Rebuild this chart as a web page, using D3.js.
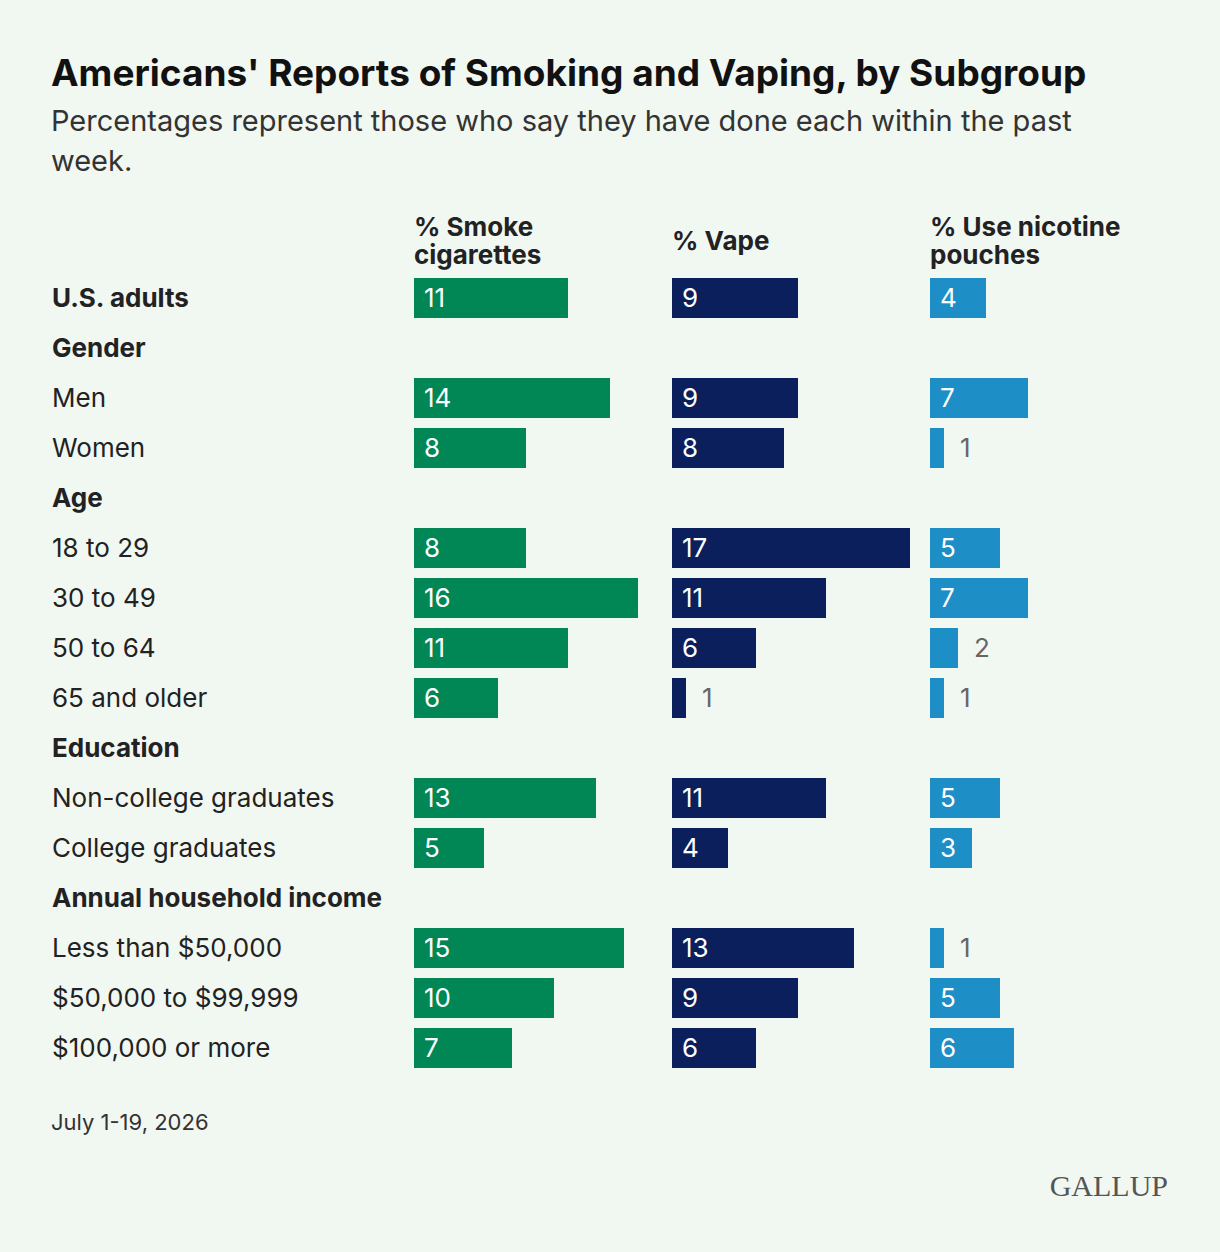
<!DOCTYPE html>
<html><head><meta charset="utf-8">
<script src="https://cdn.jsdelivr.net/npm/d3@7"></script>
<style>body{margin:0;background:#f1f7f1;font-family:Inter,"Noto Sans",sans-serif}</style>
</head><body><div class="canvas"></div>
<script>
const rows = ['U.S. adults','Gender','Men','Women','Age','18 to 29','30 to 49','50 to 64','65 and older','Education','Non-college graduates','College graduates','Annual household income','Less than $50,000','$50,000 to $99,999','$100,000 or more'];
const boldRows = ['U.S. adults','Gender','Age','Education','Annual household income'];
const smoke = [11,null,14,8,null,8,16,11,6,null,13,5,null,15,10,7];
const vape = [9,null,9,8,null,17,11,6,1,null,11,4,null,13,9,6];
const pouch = [4,null,7,1,null,5,7,2,1,null,5,3,null,1,5,6];
const seriesNames = [['% Smoke','cigarettes'],['% Vape'],['% Use nicotine','pouches']];
const colors = ['#008755','#0b1f5c','#1d8ec6'];

const svg = d3.select('.canvas').append('svg').attr('width',1220).attr('height',1252);
svg.append('rect').attr('width',1220).attr('height',1252).attr('fill','#f1f7f1');

svg.append('text').attr('x',51).attr('y',86).attr('font-size',37).attr('font-weight',700).attr('fill','#111')
  .text("Americans' Reports of Smoking and Vaping, by Subgroup");
['Percentages represent those who say they have done each within the past','week.'].forEach((t,i) =>
  svg.append('text').attr('x',51).attr('y',131+i*40).attr('font-size',29).attr('fill','#333').text(t));

const y = d3.scaleBand().domain(rows).range([273,1073]).paddingInner(0.2).paddingOuter(0.1);
const x = d3.scaleLinear().domain([0,1]).range([0,14]);
const colX = [414,672,930];

rows.forEach(r => {
  svg.append('text').attr('x',52).attr('y',y(r)+y.bandwidth()/2+9).attr('font-size',26)
    .attr('font-weight',boldRows.includes(r)?700:400).attr('fill','#222').text(r);
});

seriesNames.forEach((lines,i) => {
  const t = svg.append('text').attr('x',colX[i]).attr('font-size',26).attr('font-weight',700).attr('fill','#222');
  const y0 = lines.length===1 ? 250 : 236;
  lines.forEach((l,j) => t.append('tspan').attr('x',colX[i]).attr('y',y0+j*28).text(l));
});

[smoke,vape,pouch].forEach((vals,i) => {
  const data = rows.map((r,k) => ({r, v: vals[k]})).filter(d => d.v != null);
  const g = svg.append('g');
  g.selectAll('rect').data(data).enter().append('rect')
    .attr('x',colX[i]).attr('y',d => y(d.r)).attr('height',y.bandwidth())
    .attr('width',d => x(d.v)).attr('fill',colors[i]);
  g.selectAll('text').data(data).enter().append('text')
    .attr('x',d => d.v <= 2 ? colX[i]+x(d.v)+16 : colX[i]+10)
    .attr('y',d => y(d.r)+y.bandwidth()/2+9).attr('font-size',26)
    .attr('fill',d => d.v <= 2 ? '#666' : '#fff').text(d => d.v);
});

svg.append('text').attr('x',51).attr('y',1130).attr('font-size',22).attr('fill','#333').text('July 1-19, 2026');
svg.append('text').attr('x',1168).attr('y',1196).attr('text-anchor','end').attr('font-size',30)
  .attr('font-family','"Liberation Serif",serif').attr('fill','#555').text('GALLUP');
</script></body></html>
